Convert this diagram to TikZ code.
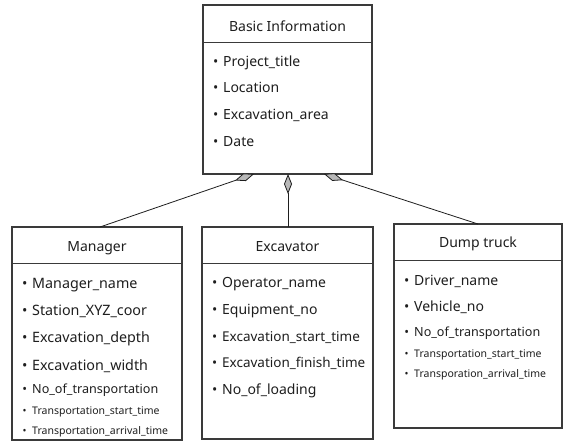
\documentclass[tikz,border=0pt]{standalone}
\usepackage{fontspec}
\setmainfont{Noto Sans}
\usetikzlibrary{arrows.meta}
\definecolor{edge}{HTML}{3A3A3A}
\definecolor{ink}{HTML}{1E1E1E}
\definecolor{dfill}{HTML}{B8B8B8}
\tikzset{
  box/.style={draw=edge, line width=1.1pt, fill=white, inner sep=0pt},
  divider/.style={draw=edge, line width=0.9pt},
  ttl/.style={anchor=base, inner sep=0pt, text=ink, font=\fontsize{14}{16}\selectfont},
  itm/.style={anchor=base west, inner sep=0pt, text=ink},
  big/.style={itm, font=\fontsize{14}{16}\selectfont},
  mid/.style={itm, font=\fontsize{12.6}{15}\selectfont},
  sml/.style={itm, font=\fontsize{10.5}{12}\selectfont}
}
\tikzset{agg/.style={draw=ink, line width=0.8pt, -{Diamond[length=20pt,width=8pt,fill=dfill,line width=0.8pt]}}}
\newcommand{\bl}{\makebox[15pt][c]{\textbullet}}
\begin{document}
\begin{tikzpicture}[x=1pt,y=-1pt]
\useasboundingbox (0,0) rectangle (563,446);
% Basic Information
\node[box, minimum width=169pt, minimum height=169pt] (basic) at (287.5,89.5) {};
\draw[divider] (203,42) -- (372,42);
\node[ttl] (bt) at (287.5,32) {Basic Information};
\node[big] (b1) at (208,67) {\bl Project\_title};
\node[big] (b2) at (208,93) {\bl Location};
\node[big] (b3) at (208,120) {\bl Excavation\_area};
\node[big] (b4) at (208,147) {\bl Date};
% Manager
\node[box, minimum width=170pt, minimum height=213pt] (mgr) at (97,333.5) {};
\draw[divider] (12,263) -- (182,263);
\node[ttl] (mt) at (97,252) {Manager};
\node[big, font=\fontsize{14.3}{16}\selectfont] (m1) at (17,289) {\bl Manager\_name};
\node[big, font=\fontsize{14.3}{16}\selectfont] (m2) at (17,316) {\bl Station\_XYZ\_coor};
\node[big, font=\fontsize{14.3}{16}\selectfont] (m3) at (17,343) {\bl Excavation\_depth};
\node[big, font=\fontsize{14.3}{16}\selectfont] (m4) at (17,371) {\bl Excavation\_width};
\node[mid] (m5) at (17,394) {\bl No\_of\_transportation};
\node[sml] (m6) at (17,415) {\bl Transportation\_start\_time};
\node[sml] (m7) at (17,435) {\bl Transportation\_arrival\_time};
% Excavator
\node[box, minimum width=171pt, minimum height=212pt] (exc) at (287.5,333) {};
\draw[divider] (202,263) -- (373,263);
\node[ttl] (et) at (287.5,252) {Excavator};
\node[big] (e1) at (207,288) {\bl Operator\_name};
\node[big] (e2) at (207,315) {\bl Equipment\_no};
\node[big, font=\fontsize{13.5}{16}\selectfont] (e3) at (207,342) {\bl Excavation\_start\_time};
\node[big, font=\fontsize{13.5}{16}\selectfont] (e4) at (207,368) {\bl Excavation\_finish\_time};
\node[big] (e5) at (207,395) {\bl No\_of\_loading};
% Dump truck
\node[box, minimum width=168pt, minimum height=204pt] (dmp) at (478,326) {};
\draw[divider] (394,260) -- (562,260);
\node[ttl] (dt) at (478,248) {Dump truck};
\node[big] (d1) at (399,286) {\bl Driver\_name};
\node[big] (d2) at (399,312) {\bl Vehicle\_no};
\node[mid] (d3) at (399,337) {\bl No\_of\_transportation};
\node[sml] (d4) at (399,358) {\bl Transportation\_start\_time};
\node[sml] (d5) at (399,378) {\bl Transporation\_arrival\_time};
% connectors
\coordinate (pL) at (254,174);
\coordinate (pC) at (288,174);
\coordinate (pR) at (324,174);
\coordinate (qL) at (100,227);
\coordinate (qC) at (288,227);
\coordinate (qR) at (478,224);
\draw[agg] (qL) -- (pL);
\draw[agg] (qC) -- (pC);
\draw[agg] (qR) -- (pR);
\end{tikzpicture}
\end{document}
